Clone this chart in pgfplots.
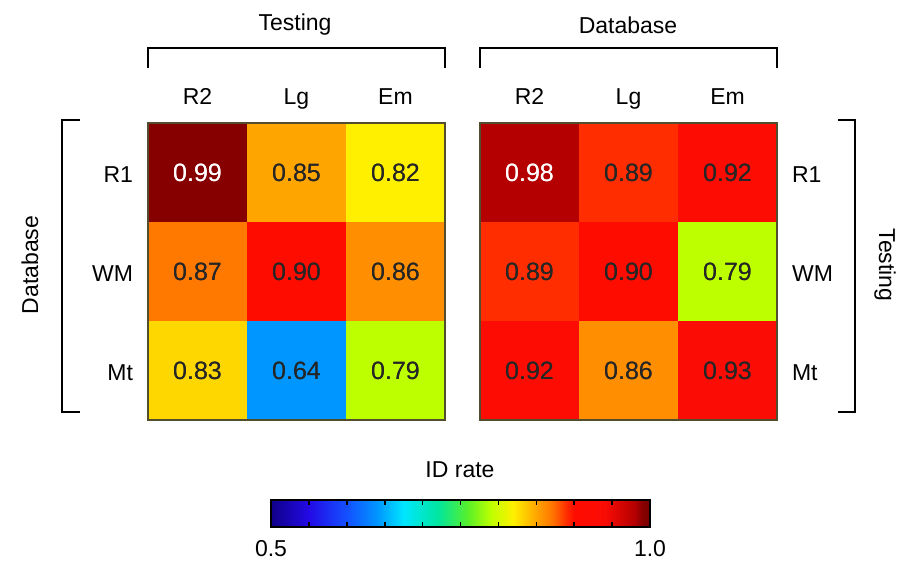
\documentclass[border=0pt]{standalone}
\usepackage{pgfplots}
\pgfplotsset{compat=1.18}
\usepackage{pgfplotstable}
\usepackage{fontspec}
\setmainfont{Liberation Sans}
\pgfplotsset{colormap={idr}{rgb255(0cm)=(15,0,135); rgb255(5cm)=(35,10,230); rgb255(10cm)=(20,80,255); rgb255(14cm)=(0,150,255); rgb255(17.5cm)=(0,230,255); rgb255(22cm)=(0,230,160); rgb255(26cm)=(90,240,40); rgb255(29cm)=(190,255,0); rgb255(32cm)=(255,240,0); rgb255(35cm)=(255,165,0); rgb255(37cm)=(255,120,0); rgb255(39cm)=(255,45,0); rgb255(40cm)=(255,12,0); rgb255(44cm)=(250,12,5); rgb255(48cm)=(180,0,0); rgb255(49cm)=(135,0,0); rgb255(50cm)=(120,0,0)}}
\definecolor{c0}{RGB}{15,0,135}\definecolor{c1}{RGB}{35,10,230}\definecolor{c2}{RGB}{20,80,255}
\definecolor{c3}{RGB}{0,150,255}\definecolor{c4}{RGB}{0,230,255}\definecolor{c5}{RGB}{0,230,160}
\definecolor{c6}{RGB}{90,240,40}\definecolor{c7}{RGB}{190,255,0}\definecolor{c8}{RGB}{255,240,0}
\definecolor{c9}{RGB}{255,165,0}\definecolor{c10}{RGB}{255,120,0}\definecolor{c11}{RGB}{255,45,0}
\definecolor{c12}{RGB}{255,12,0}\definecolor{c13}{RGB}{250,12,5}\definecolor{c14}{RGB}{180,0,0}
\definecolor{c15}{RGB}{135,0,0}\definecolor{c16}{RGB}{120,0,0}
\pgfdeclarehorizontalshading{idrbar}{100bp}{color(0bp)=(c0); color(25bp)=(c0); color(30bp)=(c1); color(35bp)=(c2); color(39bp)=(c3); color(42.5bp)=(c4); color(47bp)=(c5); color(51bp)=(c6); color(54bp)=(c7); color(57bp)=(c8); color(60bp)=(c9); color(62bp)=(c10); color(64bp)=(c11); color(65bp)=(c12); color(69bp)=(c13); color(73bp)=(c14); color(74bp)=(c15); color(75bp)=(c16); color(100bp)=(c16)}
\pgfplotstableread{
x y v
0 0 0.99
1 0 0.85
2 0 0.82
0 1 0.87
1 1 0.90
2 1 0.86
0 2 0.83
1 2 0.64
2 2 0.79
}\leftdata
\pgfplotstableread{
x y v
0 0 0.98
1 0 0.89
2 0 0.92
0 1 0.89
1 1 0.90
2 1 0.79
0 2 0.92
1 2 0.86
2 2 0.93
}\rightdata
\begin{document}
\begin{tikzpicture}[font=\fontsize{11.5}{13}\selectfont]
\useasboundingbox (0,0) rectangle (458.5pt,-281.5pt);
\pgfplotsset{
  mat/.style={scale only axis, width=148.5pt, height=148.5pt, anchor=south west,
    xmin=-0.5, xmax=2.5, ymin=-0.5, ymax=2.5, y dir=reverse, axis on top,
    colormap name=idr, point meta min=0.5, point meta max=1,
    xtick={0,1,2}, ytick={0,1,2}, xticklabels={R2,Lg,Em}, yticklabels={R1,WM,Mt},
    xticklabel pos=upper, major tick length=0pt,
    axis line style={draw=black!55!olive, line width=0.6pt},
    tick label style={font=\fontsize{11.5}{13}\selectfont},
    xticklabel style={yshift=3pt, text depth=0.25em, text height=0.75em},
    /pgf/number format/assume math mode=true},
  cells/.style={draw=none, mark=none, point meta=explicit,
    nodes near coords={\ifdim\pgfplotspointmetatransformed pt>900pt\color{white}\fi\pgfmathprintnumber[fixed,fixed zerofill,precision=2]{\pgfplotspointmeta}},
    every node near coord/.append style={anchor=center, font=\fontsize{12.5}{14}\selectfont, text=black!85}}
}
\begin{axis}[mat, at={(74pt,-210pt)}, yticklabel style={xshift=-4pt, yshift=-1pt}]
\addplot[matrix plot*, mesh/cols=3, mesh/rows=3, point meta=explicit] table[meta=v] {\leftdata};
\addplot[cells] table[meta=v] {\leftdata};
\end{axis}
\begin{axis}[mat, at={(240pt,-210pt)}, yticklabel pos=right, yticklabel style={xshift=4pt, yshift=-1pt}]
\addplot[matrix plot*, mesh/cols=3, mesh/rows=3, point meta=explicit] table[meta=v] {\rightdata};
\addplot[cells] table[meta=v] {\rightdata};
\end{axis}
\begin{axis}[at={(135.5pt,-263.5pt)}, anchor=south west, scale only axis,
  width=189.5pt, height=13.5pt, axis on top,
  xmin=0.5, xmax=1, ymin=0, ymax=1,
  xtick={0.5,1}, xticklabels={0.5,1.0}, minor xtick={0.55,0.6,...,0.95},
  ytick=\empty,
  major tick length=0pt, minor tick length=2.5pt, tick align=inside,
  xtick pos=both, xticklabel pos=lower,
  tick style={black, line width=0.8pt},
  axis line style={line width=1.1pt},
  xticklabel style={font=\fontsize{11.5}{13}\selectfont, yshift=-3pt}]
\shade[shading=idrbar] (axis cs:0.5,0) rectangle (axis cs:1,1);
\end{axis}
\begin{scope}[x=0.5pt, y=-0.5pt, line width=1pt]
\draw (148,68) -- (148,48) -- (445,48) -- (445,68);
\draw (480,68) -- (480,48) -- (777,48) -- (777,68);
\draw (80,120) -- (62,120) -- (62,412) -- (80,412);
\draw (838,120) -- (855,120) -- (855,412) -- (838,412);
\node at (295,25) {Testing};
\node at (628,25) {Database};
\node[rotate=90] at (30,265) {Database};
\node[rotate=-90] at (885,265) {Testing};
\node at (460,470) {ID rate};
\end{scope}
\end{tikzpicture}
\end{document}
